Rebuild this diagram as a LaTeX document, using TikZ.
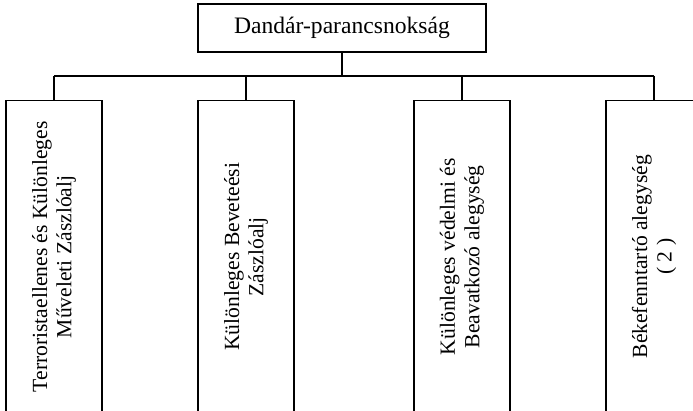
\documentclass[tikz,border=0pt]{standalone}
\usepackage{fontspec}
\setmainfont{Liberation Serif}
\begin{document}
\begin{tikzpicture}[x=1pt,y=1pt,line width=1.3pt,
  topbox/.style={draw, minimum width=288pt, minimum height=48pt, inner sep=0pt,
    font=\fontsize{23.6}{27}\selectfont},
  unitbox/.style={draw, rotate=90, minimum width=312.5pt, minimum height=96pt, inner sep=0pt,
    align=center, font=\fontsize{21.6}{24.4}\selectfont}]
\useasboundingbox (0,0) rectangle (693,411);
\clip (0,0) rectangle (693,411);
\node[topbox] (top) at (342,383) {Dandár-parancsnokság};
\coordinate (barL) at (54,335);
\coordinate (barR) at (654,335);
\node[unitbox] (b1) at (54,154.25) {Terroristaellenes és Különleges\\Műveleti Zászlóalj};
\node[unitbox] (b2) at (246,154.25) {Különleges Beveteési\\Zászlóalj};
\node[unitbox] (b3) at (462,154.25) {Különleges védelmi és\\Beavatkozó alegység};
\node[unitbox] (b4) at (654,154.25) {Békefenntartó alegység\\( 2 )};
\draw (top.south) -- (top.south |- barL);
\draw (barL) -- (barR);
\draw (b1.east |- barL) -- (b1.east);
\draw (b2.east |- barL) -- (b2.east);
\draw (b3.east |- barL) -- (b3.east);
\draw (b4.east |- barL) -- (b4.east);
\end{tikzpicture}
\end{document}
